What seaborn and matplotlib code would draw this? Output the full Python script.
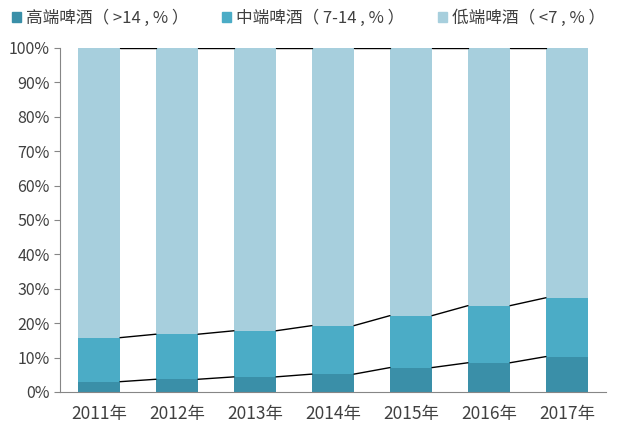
import numpy as np
import pandas as pd
import matplotlib
matplotlib.use("Agg")
import matplotlib.pyplot as plt
import seaborn as sns
from matplotlib.patches import Patch

years = ["2011年", "2012年", "2013年", "2014年", "2015年", "2016年", "2017年"]
high = [3.0, 3.7, 4.4, 5.2, 7.1, 8.5, 10.3]
mid = [12.8, 13.1, 13.4, 14.1, 15.1, 16.6, 17.1]
low = [84.2, 83.2, 82.2, 80.7, 77.8, 74.9, 72.6]
names = ["高端啤酒（ >14 , % ）", "中端啤酒（ 7-14 , % ）", "低端啤酒（ <7 , % ）"]
colors = ["#3a8fa8", "#4bacc6", "#a7cfdd"]

sns.set_style("white")
plt.rcParams["font.family"] = ["Noto Sans CJK SC", "DejaVu Sans"]

df = pd.DataFrame({"year": years, "high": high, "mid": mid, "low": low})
c1 = df["high"]
c2 = c1 + df["mid"]

fig = plt.figure(figsize=(6.24, 4.32), dpi=100)
ax = fig.add_axes([60 / 624, 1 - 392 / 432, 546 / 624, 344 / 432])

sns.barplot(data=df, x="year", y="high", color=colors[0], width=0.54, ax=ax,
            saturation=1, linewidth=0)
sns.barplot(data=df, x="year", y="mid", bottom=c1, color=colors[1], width=0.54,
            ax=ax, saturation=1, linewidth=0)
sns.barplot(data=df, x="year", y="low", bottom=c2, color=colors[2], width=0.54,
            ax=ax, saturation=1, linewidth=0)

# connector lines between bar tops
hw = 0.27
for tops in [c1.values, c2.values, (c2 + df["low"]).values]:
    for i in range(len(years) - 1):
        ax.plot([i + hw, i + 1 - hw], [tops[i], tops[i + 1]], color="black", lw=1)

ax.set_xlim(-0.5, len(years) - 0.5)
ax.set_ylim(0, 100)
ax.set_yticks(np.arange(0, 101, 10))
ax.set_yticklabels([f"{v}%" for v in range(0, 101, 10)])
ax.set_xlabel("")
ax.set_ylabel("")
for s in ["top", "right"]:
    ax.spines[s].set_visible(False)
ax.spines["left"].set_color("#868686")
ax.spines["bottom"].set_color("#868686")
ax.tick_params(axis="y", left=True, length=4, color="#868686",
               labelsize=11.5, labelcolor="#404040")
ax.tick_params(axis="x", length=0, labelsize=12.5, labelcolor="#404040", pad=9)

handles = [Patch(color=c) for c in colors]
fig.legend(handles, names, loc="upper left", bbox_to_anchor=(-0.005, 1.012), ncol=3,
           frameon=False, fontsize=12, handlelength=0.55, handleheight=0.55,
           handletextpad=0.3, columnspacing=2.0, labelcolor="#404040")

fig.savefig("out.png", dpi=100)
